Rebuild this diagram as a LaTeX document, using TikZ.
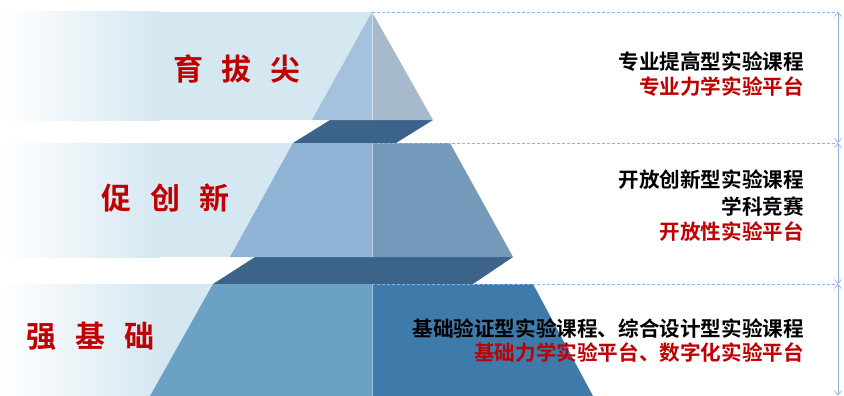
\documentclass[tikz,border=0pt]{standalone}
\usepackage{fontspec}
\usetikzlibrary{arrows.meta}
\newfontfamily\cjkb{Noto Sans CJK SC Bold}
\definecolor{bandblue}{HTML}{D5E7F1}
\definecolor{darkband}{HTML}{3C6389}
\definecolor{tAl}{HTML}{A4C2DD}
\definecolor{tAr}{HTML}{A6BACB}
\definecolor{tBl}{HTML}{8FB3D5}
\definecolor{tBr}{HTML}{7399BB}
\definecolor{tCl}{HTML}{6CA1C6}
\definecolor{tCr}{HTML}{3E7BAB}
\definecolor{lred}{HTML}{C00000}
\definecolor{dashblue}{HTML}{8DB4E6}
\tikzset{
  levellabel/.style={text=lred, font=\cjkb\fontsize{30}{34}\selectfont, inner sep=0pt},
  desc/.style={anchor=east, font=\cjkb\fontsize{20.6}{24}\selectfont, inner sep=0pt},
  descred/.style={desc, text=lred},
  guide/.style={dashblue, line width=0.8pt, dash pattern=on 3pt off 2pt},
  span/.style={dashblue, line width=0.7pt, {Straight Barb[length=4pt,width=7pt]}-{Straight Barb[length=4pt,width=7pt]}},
  divider/.style={white, opacity=0.55, line width=0.8pt}
}
\begin{document}
\begin{tikzpicture}[x=1pt,y=-1pt]
\useasboundingbox (0,0) rectangle (844,396);
% light bands
\fill[left color=white, right color=bandblue] (0,12) rectangle (160,120);
\fill[bandblue] (159.5,12) rectangle (372,120);
\fill[left color=white, right color=bandblue] (0,143) rectangle (160,257);
\fill[bandblue] (159.5,143) rectangle (372,257);
\fill[left color=white, right color=bandblue] (0,284) rectangle (160,396);
\fill[bandblue] (159.5,284) rectangle (372,396);
% dark connecting faces
\fill[darkband] (330,120) -- (433,120) -- (396,143) -- (293,143) -- cycle;
\fill[darkband] (255,257) -- (513,257) -- (473,284) -- (213,284) -- cycle;
% top triangle
\fill[tAl] (372,12) -- (312,120) -- (372,120) -- cycle;
\fill[tAr] (372,12) -- (433,120) -- (372,120) -- cycle;
% middle frustum
\fill[tBl] (293,143) -- (230,257) -- (372,257) -- (372,143) -- cycle;
\fill[tBr] (372,143) -- (450,143) -- (513,257) -- (372,257) -- cycle;
% bottom frustum
\fill[tCl] (213,284) -- (150,396) -- (372,396) -- (372,284) -- cycle;
\fill[tCr] (372,284) -- (533,284) -- (593,396) -- (372,396) -- cycle;
% dividers
\draw[divider] (372,12) -- (372,120);
\draw[divider] (372,143) -- (372,257);
\draw[divider] (372,284) -- (372,396);
% guides
\coordinate (g0) at (372,12);
\coordinate (g1) at (372,143);
\coordinate (g2) at (372,284);
\coordinate (a0) at (838,12);
\coordinate (a1) at (838,143);
\coordinate (a2) at (838,284);
\coordinate (a3) at (838,395.5);
\draw[guide] (g0) -- (a0);
\draw[guide] (g1) -- (a1);
\draw[guide] (g2) -- (a2);
\draw[span] (a0) -- (a1);
\draw[span] (a1) -- (a2);
\draw[span] (a2) -- (a3);
% level labels
\node[levellabel] (l1) at (237,69) {育\hspace{19pt}拔\hspace{19pt}尖};
\node[levellabel] (l2) at (165.5,198) {促\hspace{19pt}创\hspace{19pt}新};
\node[levellabel] (l3) at (91,336) {强\hspace{19pt}基\hspace{19pt}础};
% descriptions
\node[desc] (d1a) at (804,62) {专业提高型实验课程};
\node[descred] (d1b) at (804,87) {专业力学实验平台};
\node[desc] (d2a) at (804,180) {开放创新型实验课程};
\node[desc] (d2b) at (804,207) {学科竞赛};
\node[descred] (d2c) at (804,232) {开放性实验平台};
\node[desc] (d3a) at (804,329) {基础验证型实验课程、综合设计型实验课程};
\node[descred] (d3b) at (804,353) {基础力学实验平台、数字化实验平台};
\end{tikzpicture}
\end{document}
